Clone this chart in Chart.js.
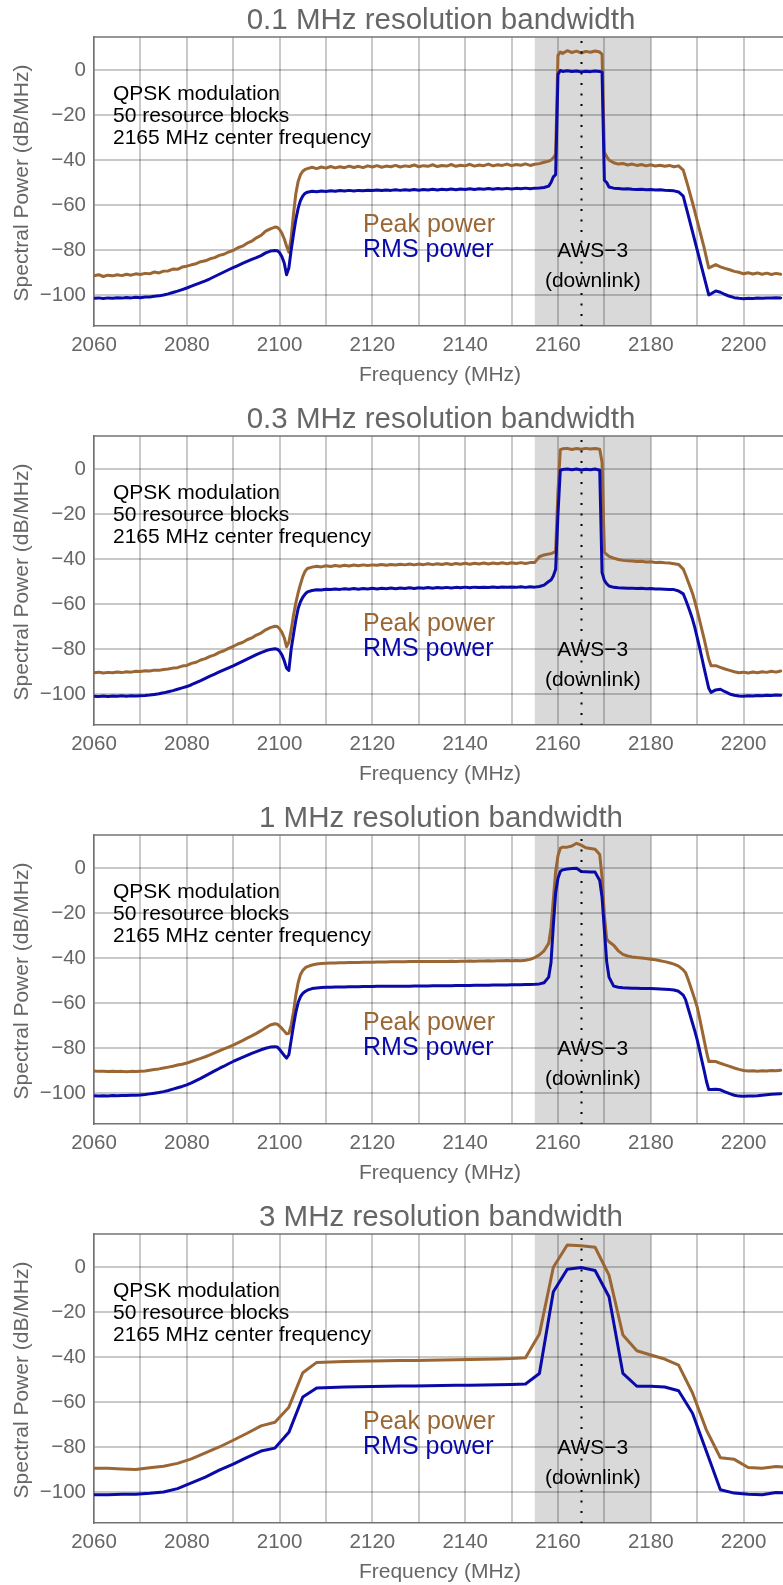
<!DOCTYPE html>
<html><head><meta charset="utf-8">
<script src="https://cdn.jsdelivr.net/npm/chart.js@4.4.0/dist/chart.umd.min.js"></script>
<style>
html,body{margin:0;padding:0;background:#fff;overflow:hidden;width:783px;height:1585px;position:relative;}
canvas{display:block;position:absolute;left:0;}
</style></head><body>
<canvas id="c0" width="783" height="399" style="top:0px"></canvas>
<canvas id="c1" width="783" height="399" style="top:399px"></canvas>
<canvas id="c2" width="783" height="399" style="top:798px"></canvas>
<canvas id="c3" width="783" height="399" style="top:1197px"></canvas>
<script>
// ---------- data ----------
const TITLES = ['0.1 MHz resolution bandwidth','0.3 MHz resolution bandwidth','1 MHz resolution bandwidth','3 MHz resolution bandwidth'];
const X_LABELS = [2060,2080,2100,2120,2140,2160,2180,2200];
const Y_LABELS = [0,-20,-40,-60,-80,-100];
const NOTE_LINES = ['QPSK modulation','50 resource blocks','2165 MHz center frequency'];
const BAND_TEXT = ['AWS\u22123','(downlink)'];
const SERIES_NAMES = ['Peak power','RMS power'];
const BAND = [2155, 2180];
const CENTER_FREQ = 2165;

// frequency grid shared by panels 1-3 (MHz)
const FREQ = [
2060,2061,2062,2063,2064,2065,2066,2067,2068,2069,
2070,2071,2072,2073,2074,2075,2076,2077,2078,2079,
2080,2081,2082,2083,2084,2085,2086,2087,2088,2089,
2090,2091,2092,2093,2094,2095,2096,2097,2098,
2099,2099.5,2100,2100.5,2101,2101.5,2102,2102.5,2103,2103.5,
2104,2104.5,2105,2105.5,2106,
2107,2108,2109,2110,2111,2112,2113,2114,2115,2116,
2117,2118,2119,2120,2121,2122,2123,2124,2125,2126,
2127,2128,2129,2130,2131,2132,2133,2134,2135,2136,
2137,2138,2139,2140,2141,2142,2143,2144,2145,2146,
2147,2148,2149,2150,2151,2152,2153,2154,2155,2156,
2157,2158,
2158.5,2159,2159.5,2160,2160.5,2161,
2162,2163,2164,2165,2166,2167,2168,2169,
2169.5,2170,2170.5,2171,
2172,2173,2174,2175,2176,2177,2178,2179,2180,2181,
2182,2183,2184,2185,2186,2187,
2187.5,2188,2188.5,2189,2189.5,2190,
2190.5,2191,2191.5,2192,2192.5,2193,
2194,2195,2196,2197,2198,2199,2200,2201,
2202,2203,2204,2205,2206,2207,2208];

const PEAK_01 = [
-91.5,-91.0,-91.8,-91.2,-91.5,-91.0,-91.4,-90.8,-91.2,-90.6,
-90.9,-90.4,-90.6,-89.8,-90.2,-89.4,-89.3,-88.5,-88.6,-87.6,
-87.2,-86.6,-86.1,-85.2,-84.8,-83.9,-83.4,-82.4,-81.9,-80.9,
-80.2,-79.0,-78.3,-77.0,-76.1,-74.6,-73.5,-71.6,-70.6,
-69.8,-69.9,-70.9,-72.6,-75.0,-78.2,-81.0,-74.5,-64.0,-55.0,
-49.5,-46.5,-45.0,-44.2,-43.8,
-43.2,-43.8,-43.1,-43.6,-42.9,-43.5,-43.0,-43.4,-42.7,-43.3,
-42.8,-43.4,-42.6,-43.1,-42.5,-43.2,-42.7,-43.0,-42.4,-43.1,
-42.6,-42.9,-42.2,-43.0,-42.5,-42.8,-42.1,-42.9,-42.4,-42.7,
-42.0,-42.8,-42.3,-42.6,-41.9,-42.7,-42.2,-42.5,-41.8,-42.6,
-42.1,-42.4,-41.8,-42.5,-42.0,-42.3,-41.7,-42.4,-41.9,-41.6,
-41.0,-40.5,
-40.0,-39.0,-37.5,6.5,8.0,7.4,
8.6,7.8,8.4,7.6,8.3,7.9,8.5,8.0,
7.0,-36.5,-38.5,-40.0,
-41.2,-41.8,-41.5,-42.2,-41.8,-42.4,-42.0,-42.6,-42.1,-42.7,
-42.3,-42.8,-42.4,-43.0,-42.6,-44.5,
-48.0,-51.5,-55.3,-59.0,-63.0,-67.0,
-71.0,-75.0,-79.0,-83.5,-88.0,-87.5,
-86.5,-87.5,-88.2,-88.8,-89.5,-89.9,-90.6,-90.1,
-90.7,-90.2,-90.8,-90.3,-90.9,-90.4,-90.8];

const RMS_01 = [
-101.5,-101.3,-101.6,-101.3,-101.5,-101.2,-101.4,-101.1,-101.3,-101.0,
-101.2,-100.9,-100.9,-100.6,-100.4,-100.0,-99.5,-98.9,-98.3,-97.6,
-96.9,-96.1,-95.3,-94.5,-93.7,-92.8,-91.8,-90.8,-89.8,-88.8,
-87.8,-86.9,-86.0,-85.1,-84.2,-83.4,-82.5,-81.3,-80.5,
-80.2,-80.3,-81.2,-83.0,-85.8,-91.0,-88.0,-80.0,-73.0,-66.5,
-61.5,-58.0,-56.0,-54.8,-54.3,
-53.9,-54.1,-53.8,-54.0,-53.7,-53.9,-53.6,-53.8,-53.5,-53.8,
-53.5,-53.7,-53.4,-53.6,-53.3,-53.6,-53.3,-53.5,-53.2,-53.5,
-53.2,-53.4,-53.1,-53.4,-53.1,-53.3,-53.0,-53.3,-53.0,-53.2,
-52.9,-53.2,-52.9,-53.1,-52.8,-53.1,-52.8,-53.0,-52.7,-53.0,
-52.7,-52.9,-52.6,-52.9,-52.6,-52.8,-52.5,-52.8,-52.5,-52.4,
-52.2,-51.6,
-50.0,-47.5,-46.5,-2.0,-0.2,-0.6,
-0.3,-0.6,-0.4,-0.8,-0.5,-0.7,-0.4,-0.6,
-1.0,-49.0,-50.0,-52.0,
-52.5,-52.7,-52.9,-52.8,-53.0,-53.1,-53.0,-53.2,-53.1,-53.3,
-53.2,-53.4,-53.5,-53.7,-54.2,-56.0,
-60.0,-64.0,-68.0,-72.0,-76.0,-80.0,
-84.0,-88.0,-92.0,-96.0,-100.0,-99.5,
-98.2,-98.8,-99.8,-100.6,-101.2,-101.5,-101.7,-101.5,
-101.6,-101.4,-101.5,-101.3,-101.4,-101.2,-101.3];

const PEAK_03 = [
-90.6,-90.3,-90.7,-90.4,-90.6,-90.2,-90.5,-90.1,-90.3,-89.9,
-90.0,-89.7,-89.8,-89.4,-89.5,-89.1,-88.9,-88.5,-88.3,-87.6,
-87.3,-86.4,-85.9,-84.9,-84.3,-83.3,-82.6,-81.5,-80.8,-79.7,
-78.9,-77.8,-77.1,-75.9,-75.1,-73.8,-72.9,-71.5,-70.5,
-69.9,-70.0,-71.0,-72.6,-75.0,-79.0,-77.0,-71.5,-65.0,-59.5,
-55.0,-51.2,-47.8,-45.4,-44.2,
-43.6,-43.2,-43.5,-43.0,-43.3,-42.9,-43.2,-42.8,-43.1,-42.7,
-43.0,-42.6,-42.9,-42.6,-42.8,-42.4,-42.8,-42.4,-42.7,-42.3,
-42.6,-42.2,-42.6,-42.2,-42.5,-42.1,-42.5,-42.1,-42.4,-42.0,
-42.4,-42.0,-42.3,-41.9,-42.3,-41.9,-42.2,-41.8,-42.2,-41.8,
-42.1,-41.7,-42.1,-41.7,-42.0,-41.6,-42.0,-41.6,-41.5,-39.0,
-38.2,-37.8,
-37.6,-37.2,-36.5,-10.0,8.6,9.0,
9.2,8.7,9.1,8.8,9.2,8.9,9.1,8.8,
3.0,-37.0,-38.0,-38.8,
-39.6,-40.2,-40.6,-40.8,-40.9,-41.1,-41.0,-41.3,-41.2,-41.5,
-41.4,-41.7,-41.8,-42.1,-42.4,-44.5,
-47.0,-49.8,-52.5,-55.3,-58.8,-62.8,
-67.0,-71.3,-75.5,-80.0,-84.5,-87.5,
-87.4,-88.2,-88.9,-89.5,-90.1,-90.6,-90.3,-90.7,
-90.2,-90.6,-90.1,-90.4,-89.9,-90.3,-89.8];

const RMS_03 = [
-101.0,-101.1,-100.9,-101.1,-100.9,-101.0,-100.8,-101.0,-100.8,-100.9,
-100.8,-100.7,-100.5,-100.2,-99.9,-99.5,-99.0,-98.5,-97.9,-97.3,
-96.7,-95.9,-95.0,-94.1,-93.1,-92.1,-91.2,-90.2,-89.3,-88.4,
-87.5,-86.5,-85.5,-84.5,-83.5,-82.5,-81.6,-80.8,-80.2,
-79.9,-80.1,-81.0,-82.6,-85.2,-88.5,-89.5,-80.0,-73.5,-67.2,
-62.0,-59.0,-57.0,-55.6,-54.6,
-54.0,-53.7,-53.8,-53.4,-53.6,-53.3,-53.5,-53.2,-53.4,-53.1,
-53.4,-53.1,-53.3,-53.0,-53.3,-53.0,-53.2,-52.9,-53.2,-52.9,
-53.1,-52.8,-53.1,-52.8,-53.0,-52.7,-53.0,-52.7,-52.9,-52.6,
-52.9,-52.6,-52.8,-52.5,-52.8,-52.5,-52.7,-52.5,-52.7,-52.4,
-52.7,-52.4,-52.6,-52.4,-52.6,-52.3,-52.6,-52.3,-52.5,-52.2,
-51.6,-50.0,
-49.3,-47.5,-44.5,-20.0,-0.5,-0.2,
0.0,-0.3,0.0,-0.4,-0.1,-0.3,0.0,-0.5,
-46.0,-49.5,-51.0,-52.0,
-52.6,-52.8,-52.9,-53.0,-53.0,-53.1,-53.0,-53.2,-53.1,-53.3,
-53.3,-53.4,-53.5,-53.6,-54.2,-55.5,
-58.0,-60.8,-63.7,-66.8,-70.5,-74.8,
-79.2,-83.8,-88.5,-93.0,-97.5,-99.3,
-98.2,-97.9,-99.0,-100.0,-100.6,-100.9,-101.0,-100.8,
-100.9,-100.7,-100.8,-100.6,-100.7,-100.5,-100.6];

const PEAK_1 = [
-90.2,-90.4,-90.3,-90.5,-90.3,-90.5,-90.4,-90.6,-90.4,-90.5,
-90.3,-90.2,-89.9,-89.6,-89.3,-88.9,-88.5,-88.1,-87.6,-87.2,
-86.7,-86.0,-85.3,-84.6,-83.9,-83.1,-82.2,-81.3,-80.4,-79.6,
-78.7,-77.7,-76.7,-75.6,-74.6,-73.5,-72.3,-71.0,-69.8,
-69.2,-69.4,-70.3,-71.3,-72.5,-73.7,-73.5,-69.8,-64.0,-56.5,
-51.0,-47.3,-45.5,-44.4,-43.8,
-43.1,-42.7,-42.4,-42.3,-42.2,-42.2,-42.1,-42.1,-42.0,-42.0,
-42.0,-41.9,-41.9,-41.9,-41.8,-41.8,-41.8,-41.7,-41.7,-41.7,
-41.7,-41.6,-41.6,-41.6,-41.6,-41.5,-41.6,-41.5,-41.5,-41.5,
-41.4,-41.5,-41.4,-41.4,-41.3,-41.4,-41.3,-41.3,-41.2,-41.3,
-41.2,-41.2,-41.1,-41.2,-41.1,-41.2,-41.0,-40.6,-39.8,-38.6,
-36.8,-33.5,
-26.5,-14.0,-1.5,5.5,8.8,9.3,
9.3,9.8,11.0,10.2,9.0,8.7,8.4,6.0,
-4.0,-21.0,-31.5,-32.8,
-34.3,-36.8,-38.4,-39.1,-39.5,-39.8,-40.0,-40.2,-40.5,-40.8,
-41.2,-41.6,-42.1,-42.7,-43.6,-45.3,
-46.5,-49.2,-52.2,-55.3,-58.5,-61.8,
-66.5,-71.5,-76.5,-81.5,-86.0,-85.9,
-86.0,-86.8,-87.5,-88.2,-88.9,-89.5,-90.0,-90.2,
-90.1,-90.3,-90.1,-90.2,-90.0,-90.1,-89.9];

const RMS_1 = [
-101.2,-101.3,-101.2,-101.3,-101.1,-101.2,-101.1,-101.1,-101.0,-101.0,
-100.9,-100.7,-100.4,-100.1,-99.8,-99.4,-98.9,-98.3,-97.7,-97.1,
-96.4,-95.5,-94.5,-93.5,-92.4,-91.3,-90.2,-89.1,-88.1,-87.0,
-86.0,-85.1,-84.2,-83.3,-82.4,-81.6,-80.8,-80.1,-79.6,
-79.4,-79.6,-80.7,-82.0,-83.3,-84.5,-83.0,-76.5,-70.0,-64.2,
-59.8,-57.2,-55.7,-54.9,-54.3,
-53.6,-53.3,-53.1,-53.0,-53.0,-52.9,-52.9,-52.9,-52.8,-52.8,
-52.8,-52.7,-52.7,-52.7,-52.6,-52.6,-52.6,-52.6,-52.5,-52.5,
-52.5,-52.5,-52.4,-52.4,-52.4,-52.4,-52.3,-52.3,-52.3,-52.3,
-52.3,-52.2,-52.2,-52.2,-52.2,-52.1,-52.1,-52.1,-52.1,-52.0,
-52.0,-52.0,-52.0,-51.9,-51.9,-51.9,-51.8,-51.8,-51.7,-51.5,
-51.0,-48.5,
-42.0,-25.5,-11.0,-4.5,-1.5,-0.8,
-0.4,-0.2,-0.1,-1.5,-1.6,-1.7,-1.8,-5.5,
-13.0,-27.5,-41.6,-48.5,
-52.5,-53.0,-53.2,-53.3,-53.4,-53.4,-53.5,-53.5,-53.6,-53.7,
-53.8,-53.9,-54.0,-54.2,-54.8,-56.5,
-58.5,-62.0,-65.5,-69.0,-72.5,-76.3,
-80.8,-85.5,-90.0,-94.8,-98.5,-98.5,
-98.4,-98.6,-99.5,-100.3,-101.0,-101.4,-101.5,-101.4,
-101.3,-101.2,-101.0,-100.8,-100.6,-100.5,-100.4];

// 3 MHz RBW: sampled every 3 MHz
const FREQ_3 = [
2060,2063,2066,2069,2072,2075,2078,2081,2084,2087,
2090,2093,2096,2099,2102,2105,2108,2111,2114,2117,
2120,2123,2126,2129,2132,2135,2138,2141,2144,2147,
2150,2153,2156,2159,2162,2165,2168,2171,2174,2177,
2180,2183,2186,2189,2192,2195,2198,2201,2204,2207,2210];

const PEAK_3 = [
-89.5,-89.5,-89.8,-90.0,-89.2,-88.6,-87.3,-85.3,-82.6,-80.0,
-77.0,-73.9,-70.6,-69.0,-62.3,-47.0,-42.4,-42.2,-42.0,-41.9,
-41.8,-41.7,-41.6,-41.5,-41.4,-41.3,-41.2,-41.1,-41.0,-40.9,
-40.7,-40.3,-29.8,-0.1,9.8,9.5,8.8,-3.6,-30.2,-37.2,
-39.1,-40.9,-43.6,-56.0,-72.5,-84.8,-85.5,-89.1,-89.5,-88.7,-89.0];

const RMS_3 = [
-101.2,-101.2,-101.0,-101.0,-100.6,-100.0,-98.5,-96.0,-93.4,-90.3,
-87.6,-84.6,-81.8,-80.5,-73.5,-57.8,-53.8,-53.5,-53.3,-53.2,
-53.1,-53.0,-52.9,-52.9,-52.8,-52.7,-52.6,-52.5,-52.4,-52.3,
-52.2,-52.0,-47.3,-11.0,-1.0,-0.2,-1.5,-13.2,-47.3,-53.0,
-53.0,-53.3,-55.0,-65.0,-82.0,-99.0,-100.5,-101.0,-101.2,-100.2,-100.5];

const PANELS = [
  {freq: FREQ, peak: PEAK_01, rms: RMS_01},
  {freq: FREQ, peak: PEAK_03, rms: RMS_03},
  {freq: FREQ, peak: PEAK_1,  rms: RMS_1},
  {freq: FREQ_3, peak: PEAK_3, rms: RMS_3}
];

// ---------- styling ----------
const FONT = "'Liberation Sans', Arial, Helvetica, sans-serif";
const PEAK_COLOR = '#9a6634';
const RMS_COLOR = '#0a0aa8';
const GREY_TEXT = '#666666';
const AXIS_COLOR = '#737373';
const GRID_COLOR = 'rgba(0,0,0,0.21)';

function decorations(panelIndex) {
  return {
    id: 'deco' + panelIndex,
    beforeDraw(chart) {
      const {ctx, chartArea: a, scales: {x}} = chart;
      ctx.save();
      ctx.fillStyle = '#fff';
      ctx.fillRect(0, 0, chart.width, chart.height);
      ctx.fillStyle = '#d9d9d9';
      const x0 = x.getPixelForValue(BAND[0]), x1 = x.getPixelForValue(BAND[1]);
      ctx.fillRect(x0, a.top, x1 - x0, a.bottom - a.top);
      ctx.restore();
    },
    afterDatasetsDraw(chart) {
      const {ctx, chartArea: a, scales: {x}} = chart;
      ctx.save();
      const xc = Math.round(x.getPixelForValue(CENTER_FREQ)) + 0.5;
      ctx.strokeStyle = '#000';
      ctx.lineWidth = 2;
      ctx.setLineDash([2, 8.5]);
      ctx.beginPath(); ctx.moveTo(xc, a.top + 4); ctx.lineTo(xc, a.bottom); ctx.stroke();
      ctx.setLineDash([]);
      ctx.strokeStyle = AXIS_COLOR;
      ctx.lineWidth = 1.5;
      ctx.beginPath(); ctx.moveTo(a.left, a.top); ctx.lineTo(a.right, a.top); ctx.stroke();
      ctx.restore();
    },
    afterDraw(chart) {
      const {ctx, chartArea: a, scales: {x}} = chart;
      ctx.save();
      // title
      ctx.fillStyle = GREY_TEXT;
      ctx.textAlign = 'center';
      ctx.textBaseline = 'alphabetic';
      ctx.font = '29.5px ' + FONT;
      ctx.fillText(TITLES[panelIndex], 441, 28.5);
      // axis titles
      ctx.font = '21px ' + FONT;
      ctx.fillText('Frequency (MHz)', 440, 381);
      ctx.save();
      ctx.translate(28, 183);
      ctx.rotate(-Math.PI / 2);
      ctx.fillText('Spectral Power (dB/MHz)', 0, 0);
      ctx.restore();
      // notes
      ctx.fillStyle = '#000';
      ctx.textAlign = 'left';
      ctx.font = '21px ' + FONT;
      NOTE_LINES.forEach((t, i) => ctx.fillText(t, 113, 99.5 + i * 22));
      // series labels
      ctx.font = '25px ' + FONT;
      ctx.fillStyle = PEAK_COLOR;
      ctx.fillText(SERIES_NAMES[0], 363, 231.5);
      ctx.fillStyle = RMS_COLOR;
      ctx.fillText(SERIES_NAMES[1], 363, 256.5);
      // band label
      const bc = (x.getPixelForValue(BAND[0]) + x.getPixelForValue(BAND[1])) / 2;
      ctx.fillStyle = '#000';
      ctx.textAlign = 'center';
      ctx.font = '21px ' + FONT;
      ctx.fillText(BAND_TEXT[0], bc, 256.5);
      ctx.fillText(BAND_TEXT[1], bc, 287);
      ctx.restore();
    }
  };
}

PANELS.forEach((p, i) => {
  const mk = arr => p.freq.map((f, k) => ({x: f, y: arr[k]}));
  new Chart(document.getElementById('c' + i), {
    type: 'line',
    data: {
      datasets: [
        {label: SERIES_NAMES[1], data: mk(p.rms), borderColor: RMS_COLOR, borderWidth: 3},
        {label: SERIES_NAMES[0], data: mk(p.peak), borderColor: PEAK_COLOR, borderWidth: 3}
      ]
    },
    options: {
      responsive: false,
      animation: false,
      devicePixelRatio: 1,
      layout: {padding: {top: 37, left: 0, right: 0, bottom: 0}},
      plugins: {legend: {display: false}, title: {display: false}, tooltip: {enabled: false}},
      elements: {point: {radius: 0}, line: {tension: 0, borderJoinStyle: 'round', borderCapStyle: 'round'}},
      scales: {
        x: {
          type: 'linear', min: 2060, max: 2208.5,
          afterFit(s) { s.height = 73; },
          grid: {color: GRID_COLOR, lineWidth: 2, drawTicks: false},
          border: {display: true, color: AXIS_COLOR, width: 1.5},
          ticks: {
            stepSize: 10, includeBounds: false, autoSkip: false, maxRotation: 0, minRotation: 0,
            padding: 7, color: GREY_TEXT, font: {family: FONT, size: 20.5},
            callback: v => X_LABELS.includes(v) ? String(v) : ''
          }
        },
        y: {
          type: 'linear', min: -113.8, max: 14.7,
          afterFit(s) { s.width = 94; },
          grid: {color: GRID_COLOR, lineWidth: 2, drawTicks: false},
          border: {display: true, color: AXIS_COLOR, width: 1.5},
          ticks: {
            stepSize: 20, includeBounds: false, autoSkip: false,
            padding: 8, color: GREY_TEXT, font: {family: FONT, size: 20.5},
            callback: v => Y_LABELS.includes(v) ? (v < 0 ? '\u2212' + (-v) : String(v)) : ''
          }
        }
      }
    },
    plugins: [decorations(i)]
  });
});
</script>
</body></html>
